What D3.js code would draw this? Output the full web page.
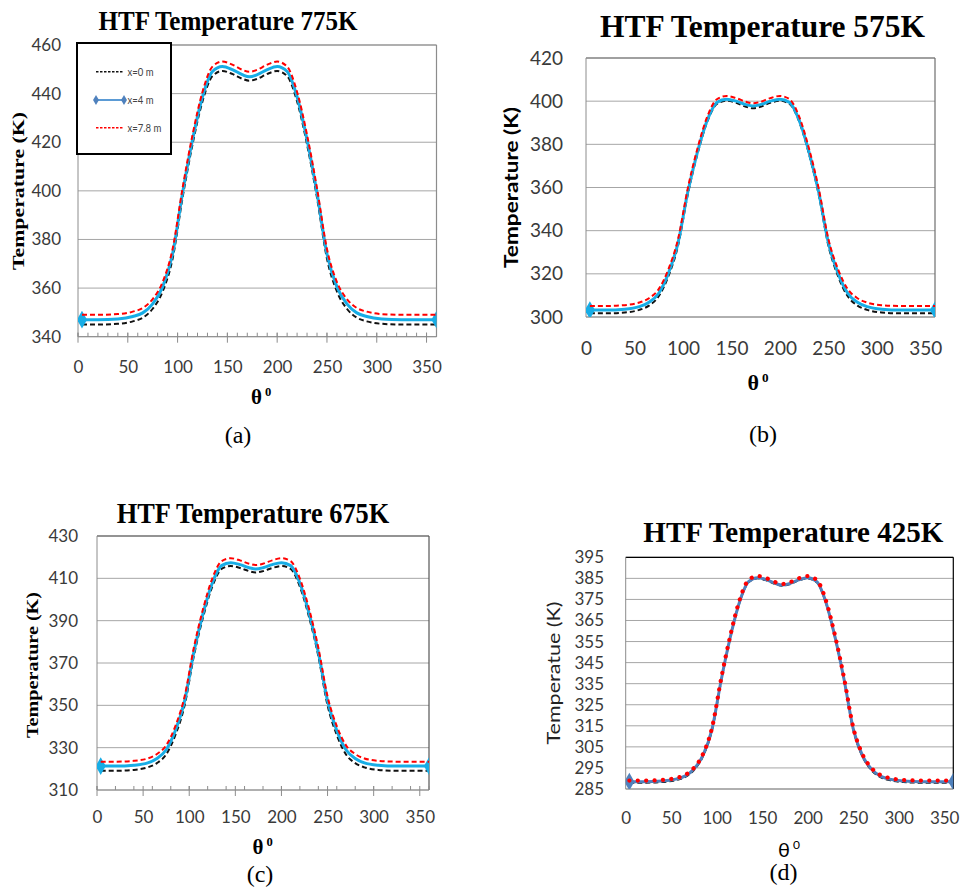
<!DOCTYPE html>
<html>
<head>
<meta charset="utf-8">
<script src="https://cdn.jsdelivr.net/npm/d3@7/dist/d3.min.js"></script>
<style>
  body { margin: 0; background: #fff; }
</style>
</head>
<body>
<svg id="fig" width="960" height="890"></svg>
<script>
// angle around the tube (degrees)
const theta = [4, 20, 40, 55, 65, 75, 85, 95, 105, 115, 125, 135, 145, 155, 165, 172,
  180, 190, 200, 210, 220, 230, 240, 250, 260, 270, 280, 290, 305, 325, 345, 360];

// HTF 775K
const htf775_x0 = [345.0, 345.0, 345.3, 346.3, 347.8, 351.5, 358.6, 372.1, 397.2, 419.1, 436.8, 447.2, 449.3, 448.1, 446.1, 445.3,
  446.1, 448.1, 449.3, 447.2, 436.8, 419.1, 397.2, 372.1, 358.6, 351.5, 347.8, 346.3, 345.3, 345.0, 345.0, 345.0];
const htf775_x4 = [347.0, 347.0, 347.3, 348.3, 349.8, 353.5, 360.5, 374.1, 399.1, 421.0, 438.7, 449.1, 451.2, 449.9, 447.8, 446.9,
  447.8, 449.9, 451.2, 449.1, 438.7, 421.0, 399.1, 374.1, 360.5, 353.5, 349.8, 348.3, 347.3, 347.0, 347.0, 347.0];
const htf775_x78 = [349.0, 349.0, 349.3, 350.3, 351.8, 355.5, 362.5, 376.1, 401.1, 423.0, 440.7, 451.1, 453.2, 451.9, 449.8, 449.0,
  449.8, 451.9, 453.2, 451.1, 440.7, 423.0, 401.1, 376.1, 362.5, 355.5, 351.8, 350.3, 349.3, 349.0, 349.0, 349.0];

// HTF 575K
const htf575_x0 = [301.7, 301.7, 302.1, 303.3, 305.3, 309.6, 318.9, 333.2, 356.9, 375.6, 390.4, 398.7, 400.2, 399.2, 397.4, 396.7,
  397.4, 399.2, 400.2, 398.7, 390.4, 375.6, 356.9, 333.2, 318.9, 309.6, 305.3, 303.3, 302.1, 301.7, 301.7, 301.7];
const htf575_x4 = [303.2, 303.2, 303.6, 304.8, 306.8, 311.0, 320.3, 334.5, 357.9, 376.5, 391.1, 399.4, 400.9, 400.0, 398.4, 397.8,
  398.4, 400.0, 400.9, 399.4, 391.1, 376.5, 357.9, 334.5, 320.3, 311.0, 306.8, 304.8, 303.6, 303.2, 303.2, 303.2];
const htf575_x78 = [305.1, 305.1, 305.5, 306.7, 308.7, 312.9, 322.1, 336.2, 359.6, 378.1, 392.7, 400.9, 402.4, 401.4, 399.7, 399.0,
  399.7, 401.4, 402.4, 400.9, 392.7, 378.1, 359.6, 336.2, 322.1, 312.9, 308.7, 306.7, 305.5, 305.1, 305.1, 305.1];

// HTF 675K
const htf675_x0 = [319.1, 319.1, 319.5, 320.7, 322.7, 326.8, 336.0, 350.0, 373.3, 391.6, 406.1, 414.4, 415.8, 414.9, 413.4, 412.8,
  413.4, 414.9, 415.8, 414.4, 406.1, 391.6, 373.3, 350.0, 336.0, 326.8, 322.7, 320.7, 319.5, 319.1, 319.1, 319.1];
const htf675_x4 = [321.3, 321.3, 321.7, 322.8, 324.9, 329.0, 338.1, 352.1, 375.1, 393.4, 407.8, 416.0, 417.4, 416.5, 415.0, 414.4,
  415.0, 416.5, 417.4, 416.0, 407.8, 393.4, 375.1, 352.1, 338.1, 329.0, 324.9, 322.8, 321.7, 321.3, 321.3, 321.3];
const htf675_x78 = [323.4, 323.4, 323.8, 324.9, 327.0, 331.1, 340.2, 354.2, 377.2, 395.5, 409.9, 418.1, 419.5, 418.5, 416.9, 416.3,
  416.9, 418.5, 419.5, 418.1, 409.9, 395.5, 377.2, 354.2, 340.2, 331.1, 327.0, 324.9, 323.8, 323.4, 323.4, 323.4];

// HTF 425K
const htf425_x0 = [288.0, 288.0, 288.3, 289.2, 290.6, 294.0, 300.6, 313.2, 336.5, 356.9, 373.4, 383.1, 385.0, 384.0, 382.2, 381.5,
  382.2, 384.0, 385.0, 383.1, 373.4, 356.9, 336.5, 313.2, 300.6, 294.0, 290.6, 289.2, 288.3, 288.0, 288.0, 288.0];
const htf425_x4 = [288.5, 288.5, 288.8, 289.7, 291.1, 294.5, 301.1, 313.7, 336.9, 357.2, 373.7, 383.4, 385.3, 384.3, 382.5, 381.8,
  382.5, 384.3, 385.3, 383.4, 373.7, 357.2, 336.9, 313.7, 301.1, 294.5, 291.1, 289.7, 288.8, 288.5, 288.5, 288.5];
const htf425_x78 = [289.0, 289.0, 289.3, 290.2, 291.6, 295.0, 301.6, 314.3, 337.6, 357.9, 374.5, 384.2, 386.1, 385.0, 383.1, 382.3,
  383.1, 385.0, 386.1, 384.2, 374.5, 357.9, 337.6, 314.3, 301.6, 295.0, 291.6, 290.2, 289.3, 289.0, 289.0, 289.0];

const xTicks = [0, 50, 100, 150, 200, 250, 300, 350];
const yTicks775 = [340, 360, 380, 400, 420, 440, 460];
const yTicks575 = [300, 320, 340, 360, 380, 400, 420];
const yTicks675 = [310, 330, 350, 370, 390, 410, 430];
const yTicks425 = [285, 295, 305, 315, 325, 335, 345, 355, 365, 375, 385, 395];
const legendLabels = ["x=0 m", "x=4 m", "x=7.8 m"];

const svg = d3.select("#fig");
const serif = "'Liberation Serif', 'Times New Roman', serif";
const sans = "Lato, 'Open Sans', sans-serif";

const panels = [
  { key: "a", title: "HTF Temperature 775K", series: [htf775_x0, htf775_x4, htf775_x78], yTicks: yTicks775,
    left: 78, right: 436.5, top: 45, bottom: 336.7, border: "#8c8c8c",
    titleX: 228, titleY: 30, titleSize: 27, titleLen: 259,
    tickSize: 17, yPad: 17, xPad: 24, minorStep: 10,
    yTitle: "Temperature (K)", yTitleFont: serif, yTitleWeight: "bold", yTitleSize: 17, yTitleX: 24, yTitleY: 191, yTitleLen: 158,
    thetaFont: serif, thetaWeight: "bold", thetaX: 251, thetaY: 403.5, thetaSize: 21,
    label: "(a)", labelX: 238, labelY: 443, modern: false, legend: true },
  { key: "b", title: "HTF Temperature 575K", series: [htf575_x0, htf575_x4, htf575_x78], yTicks: yTicks575,
    left: 586, right: 935, top: 58, bottom: 317, border: "#6e6e6e",
    titleX: 762.5, titleY: 37.3, titleSize: 31, titleLen: 325,
    tickSize: 19, yPad: 23, xPad: 24.5, minorStep: 0,
    yTitle: "Temperature (K)", yTitleFont: sans, yTitleWeight: "bold", yTitleSize: 18, yTitleX: 518, yTitleY: 187.5, yTitleLen: 161,
    thetaFont: serif, thetaWeight: "bold", thetaX: 747.5, thetaY: 390, thetaSize: 22,
    label: "(b)", labelX: 763, labelY: 442, modern: false, legend: false },
  { key: "c", title: "HTF Temperature 675K", series: [htf675_x0, htf675_x4, htf675_x78], yTicks: yTicks675,
    left: 97, right: 429, top: 536, bottom: 790, border: "#555",
    titleX: 253, titleY: 523.3, titleSize: 29, titleLen: 272.6,
    tickSize: 17, yPad: 19, xPad: 21.3, minorStep: 20,
    yTitle: "Temperature (K)", yTitleFont: serif, yTitleWeight: "bold", yTitleSize: 17, yTitleX: 38, yTitleY: 665, yTitleLen: 146,
    thetaFont: serif, thetaWeight: "bold", thetaX: 252.5, thetaY: 853.5, thetaSize: 21,
    label: "(c)", labelX: 260, labelY: 882, modern: false, legend: false },
  { key: "d", title: "HTF Temperature 425K", series: [htf425_x0, htf425_x4, htf425_x78], yTicks: yTicks425,
    left: 625.7, right: 953.3, top: 557.3, bottom: 789, border: "#000",
    titleX: 793.3, titleY: 541.7, titleSize: 29, titleLen: 300,
    tickSize: 17, yPad: 21.7, xPad: 23, minorStep: 0,
    yTitle: "Temperatue (K)", yTitleFont: sans, yTitleWeight: "normal", yTitleSize: 17, yTitleX: 559.5, yTitleY: 673, yTitleLen: 143,
    thetaFont: sans, thetaWeight: "normal", thetaX: 778, thetaY: 857, thetaSize: 20,
    label: "(d)", labelX: 783.5, labelY: 880, modern: true, legend: false }
];

panels.forEach(p => {
  const g = svg.append("g");
  const x = d3.scaleLinear().domain([0, 360]).range([p.left, p.right]);
  const y = d3.scaleLinear().domain([p.yTicks[0], p.yTicks[p.yTicks.length - 1]]).range([p.bottom, p.top]);

  // gridlines
  g.append("g").selectAll("line").data(p.yTicks).join("line")
    .attr("x1", p.left).attr("x2", p.right)
    .attr("y1", d => y(d)).attr("y2", d => y(d))
    .attr("stroke", "#a6a6a6").attr("stroke-width", 1);

  // plot border: top/right from style, left/bottom as grey axes
  g.append("line").attr("x1", p.left).attr("x2", p.right).attr("y1", p.top).attr("y2", p.top)
    .attr("stroke", p.border).attr("stroke-width", 1.2);
  g.append("line").attr("x1", p.right).attr("x2", p.right).attr("y1", p.top).attr("y2", p.bottom)
    .attr("stroke", p.border).attr("stroke-width", 1.2);
  g.append("line").attr("x1", p.left).attr("x2", p.left).attr("y1", p.top).attr("y2", p.bottom)
    .attr("stroke", "#8c8c8c").attr("stroke-width", 1);
  g.append("line").attr("x1", p.left).attr("x2", p.right).attr("y1", p.bottom).attr("y2", p.bottom)
    .attr("stroke", "#8c8c8c").attr("stroke-width", 1);

  // x ticks (minor + major) on panels a, c
  if (p.minorStep) {
    g.append("g").selectAll("line").data(d3.range(0, 361, p.minorStep)).join("line")
      .attr("x1", d => x(d)).attr("x2", d => x(d))
      .attr("y1", p.bottom - 4).attr("y2", p.bottom)
      .attr("stroke", "#8c8c8c");
    g.append("g").selectAll("line").data(xTicks).join("line")
      .attr("x1", d => x(d)).attr("x2", d => x(d))
      .attr("y1", p.bottom - 4).attr("y2", p.bottom + 6)
      .attr("stroke", "#8c8c8c");
  }

  // axes (labels only)
  const yAxis = g.append("g").attr("transform", `translate(${p.left},0)`)
    .call(d3.axisLeft(y).tickValues(p.yTicks).tickSize(0).tickPadding(p.yPad));
  const xAxis = g.append("g").attr("transform", `translate(0,${p.bottom})`)
    .call(d3.axisBottom(x).tickValues(xTicks).tickSize(0).tickPadding(p.xPad));
  [yAxis, xAxis].forEach(a => {
    a.select(".domain").remove();
    a.selectAll("text").attr("font-family", sans).attr("font-size", p.tickSize).attr("fill", "#3a3a3a");
  });

  // series
  const clipId = "clip-" + p.key;
  svg.append("clipPath").attr("id", clipId).append("rect")
    .attr("x", p.left).attr("y", p.top).attr("width", p.right - p.left).attr("height", p.bottom - p.top);
  const plot = g.append("g").attr("clip-path", `url(#${clipId})`);
  const line = d3.line().x((d, i) => x(theta[i])).y(d => y(d)).curve(d3.curveMonotoneX);

  plot.append("path").datum(p.series[0]).attr("d", line)
    .attr("fill", "none").attr("stroke", "#111").attr("stroke-width", 2).attr("stroke-dasharray", "5,3");
  const blue = p.modern ? "#4f81bd" : "#17ade6";
  plot.append("path").datum(p.series[1]).attr("d", line)
    .attr("fill", "none").attr("stroke", blue).attr("stroke-width", 3);
  const ends = [0, theta.length - 1];
  plot.selectAll(".mk").data(ends).join("path")
    .attr("transform", i => `translate(${x(theta[i])},${y(p.series[1][i])})`)
    .attr("d", d3.symbol(d3.symbolDiamond, 90))
    .attr("fill", blue);
  if (p.modern) {
    plot.append("path").datum(p.series[2]).attr("d", line)
      .attr("fill", "none").attr("stroke", "#ff0000").attr("stroke-width", 4.2)
      .attr("stroke-linecap", "round").attr("stroke-dasharray", "0.1,8.3");
  } else {
    plot.append("path").datum(p.series[2]).attr("d", line)
      .attr("fill", "none").attr("stroke", "#ff0000").attr("stroke-width", 2).attr("stroke-dasharray", "5,3");
  }

  // title
  svg.append("text").attr("x", p.titleX).attr("y", p.titleY)
    .attr("text-anchor", "middle").attr("font-family", serif).attr("font-weight", "bold")
    .attr("font-size", p.titleSize).attr("textLength", p.titleLen).attr("lengthAdjust", "spacingAndGlyphs")
    .text(p.title);

  // y title
  svg.append("text").attr("transform", `translate(${p.yTitleX},${p.yTitleY}) rotate(-90)`)
    .attr("text-anchor", "middle").attr("font-family", p.yTitleFont).attr("font-weight", p.yTitleWeight)
    .attr("font-size", p.yTitleSize).attr("textLength", p.yTitleLen).attr("lengthAdjust", "spacingAndGlyphs")
    .attr("fill", p.modern ? "#222" : "#000")
    .text(p.yTitle);

  // x title: theta with superscript 0
  const th = svg.append("text").attr("x", p.thetaX).attr("y", p.thetaY)
    .attr("font-family", p.thetaFont).attr("font-weight", p.thetaWeight).attr("font-size", p.thetaSize);
  th.append("tspan").text("θ");
  th.append("tspan").attr("dx", 3).attr("dy", -8).attr("font-size", p.thetaSize * 0.6).text("0");

  // panel label
  svg.append("text").attr("x", p.labelX).attr("y", p.labelY)
    .attr("text-anchor", "middle").attr("font-family", serif).attr("font-size", 24)
    .text(p.label);

  // legend (panel a only)
  if (p.legend) {
    const lg = svg.append("g");
    lg.append("rect").attr("x", 77).attr("y", 43).attr("width", 94).attr("height", 111)
      .attr("fill", "#fff").attr("stroke", "#000").attr("stroke-width", 2);
    const rows = [71.7, 100, 127.7];
    legendLabels.forEach((lab, i) => {
      const ly = rows[i];
      const l = lg.append("line").attr("x1", 96).attr("x2", 124).attr("y1", ly).attr("y2", ly);
      if (i === 0) l.attr("stroke", "#111").attr("stroke-width", 1.5).attr("stroke-dasharray", "2.5,1.5");
      if (i === 1) {
        l.attr("stroke", "#5b9bd5").attr("stroke-width", 2);
        [96, 124].forEach(px => lg.append("path").attr("transform", `translate(${px},${ly})`)
          .attr("d", d3.symbol(d3.symbolDiamond, 30)).attr("fill", "#4f81bd"));
      }
      if (i === 2) l.attr("stroke", "#ff0000").attr("stroke-width", 1.5).attr("stroke-dasharray", "2.5,1.5");
      lg.append("text").attr("x", 127.5).attr("y", ly + 4)
        .attr("font-family", sans).attr("font-size", 11.5).attr("fill", "#444")
        .attr("textLength", i === 2 ? 34 : 26).attr("lengthAdjust", "spacingAndGlyphs")
        .text(lab);
    });
  }
});
</script>
</body>
</html>
